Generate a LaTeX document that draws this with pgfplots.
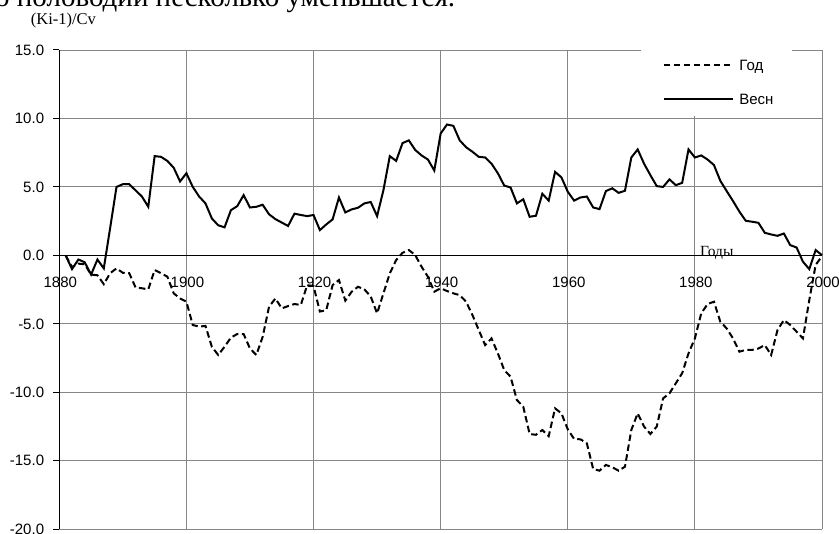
\documentclass[border=0pt]{standalone}
\usepackage{fontspec}
\setmainfont{Liberation Sans}
\newfontfamily\serifru{Liberation Serif}
\usepackage{pgfplots}
\usepackage{pgfplotstable}
\pgfplotsset{compat=1.18}
\pgfplotstableread{
year val
1881 0
1882 -0.85
1883 -0.6
1884 -0.65
1885 -1.4
1886 -1.45
1887 -2.1
1888 -1.3
1889 -0.95
1890 -1.27
1891 -1.3
1892 -2.34
1893 -2.4
1894 -2.48
1895 -1.07
1896 -1.3
1897 -1.55
1898 -2.77
1899 -3.14
1900 -3.38
1901 -5.08
1902 -5.2
1903 -5.15
1904 -6.67
1905 -7.27
1906 -6.67
1907 -6.0
1908 -5.74
1909 -5.74
1910 -6.8
1911 -7.27
1912 -5.94
1913 -3.75
1914 -3.14
1915 -3.87
1916 -3.7
1917 -3.55
1918 -3.62
1919 -2.17
1920 -2.24
1921 -4.1
1922 -4.0
1923 -2.17
1924 -1.8
1925 -3.3
1926 -2.65
1927 -2.29
1928 -2.48
1929 -3.0
1930 -4.23
1931 -2.77
1932 -1.31
1933 -0.34
1934 0.19
1935 0.39
1936 0.02
1937 -0.83
1938 -1.56
1939 -2.65
1940 -2.4
1941 -2.6
1942 -2.77
1943 -2.9
1944 -3.38
1945 -4.35
1946 -5.45
1947 -6.55
1948 -6.06
1949 -7.15
1950 -8.37
1951 -8.86
1952 -10.56
1953 -11.05
1954 -13.04
1955 -13.1
1956 -12.75
1957 -13.2
1958 -11.17
1959 -11.53
1960 -12.7
1961 -13.4
1962 -13.43
1963 -13.72
1964 -15.6
1965 -15.72
1966 -15.3
1967 -15.47
1968 -15.72
1969 -15.43
1970 -12.75
1971 -11.53
1972 -12.5
1973 -13.04
1974 -12.5
1975 -10.44
1976 -10.07
1977 -9.34
1978 -8.6
1979 -7.15
1980 -6.06
1981 -4.23
1982 -3.55
1983 -3.38
1984 -4.84
1985 -5.33
1986 -6.06
1987 -7.03
1988 -6.9
1989 -6.9
1990 -6.8
1991 -6.55
1992 -7.27
1993 -5.45
1994 -4.72
1995 -5.08
1996 -5.57
1997 -6.06
1998 -3.26
1999 -0.7
2000 -0.05
}\godtable
\pgfplotstableread{
year val
1881 0.0
1882 -1.0
1883 -0.3
1884 -0.5
1885 -1.4
1886 -0.3
1887 -0.95
1888 2.0
1889 5.0
1890 5.2
1891 5.2
1892 4.75
1893 4.3
1894 3.55
1895 7.25
1896 7.2
1897 6.9
1898 6.4
1899 5.4
1900 6.0
1901 5.0
1902 4.3
1903 3.8
1904 2.7
1905 2.2
1906 2.05
1907 3.3
1908 3.6
1909 4.4
1910 3.5
1911 3.55
1912 3.7
1913 3.0
1914 2.65
1915 2.4
1916 2.15
1917 3.05
1918 2.95
1919 2.87
1920 2.95
1921 1.85
1922 2.26
1923 2.63
1924 4.23
1925 3.14
1926 3.36
1927 3.48
1928 3.8
1929 3.9
1930 2.87
1931 4.77
1932 7.25
1933 6.9
1934 8.2
1935 8.4
1936 7.7
1937 7.3
1938 7.0
1939 6.2
1940 8.9
1941 9.56
1942 9.46
1943 8.4
1944 7.9
1945 7.57
1946 7.2
1947 7.15
1948 6.7
1949 6.0
1950 5.1
1951 4.96
1952 3.8
1953 4.1
1954 2.82
1955 2.9
1956 4.5
1957 4.0
1958 6.1
1959 5.7
1960 4.65
1961 4.0
1962 4.23
1963 4.3
1964 3.5
1965 3.38
1966 4.7
1967 4.9
1968 4.57
1969 4.72
1970 7.15
1971 7.74
1972 6.7
1973 5.86
1974 5.06
1975 5.0
1976 5.55
1977 5.13
1978 5.3
1979 7.74
1980 7.15
1981 7.3
1982 7.0
1983 6.6
1984 5.45
1985 4.7
1986 3.97
1987 3.2
1988 2.53
1989 2.46
1990 2.38
1991 1.65
1992 1.53
1993 1.43
1994 1.6
1995 0.75
1996 0.58
1997 -0.46
1998 -1.0
1999 0.39
2000 0.02
}\vesntable
\begin{document}
\begin{tikzpicture}[x=1pt,y=1pt]
\useasboundingbox (0,0) rectangle (839,534);
\node[anchor=base west, inner sep=0pt, font=\serifru\fontsize{29}{33}\selectfont] at (-5,527.5) {о половодий несколько уменьшается.};
\node[anchor=base west, inner sep=0pt, font=\serifru\fontsize{16.5}{19}\selectfont] at (30.7,509) {(Ki-1)/Cv};
\begin{axis}[
  at={(59.3pt,4.7pt)}, anchor=south west, scale only axis,
  width=762.7pt, height=479.3pt,
  xmin=1880, xmax=2000, ymin=-20, ymax=15,
  xtick={1880,1900,...,2000}, ytick={-20,-15,...,15},
  axis y line*=left, axis x line*=middle,
  hide obscured x ticks=false, hide obscured y ticks=false,
  axis line style={black, line width=1pt},
  grid=major, major grid style={draw=gray!95, line width=0.9pt},
  tick align=outside, major tick length=6pt,
  xtick style={draw=none},
  ytick style={draw=black, line width=1pt},
  tick label style={font=\fontsize{15}{18}\selectfont},
  /pgf/number format/assume math mode=true,
  xticklabel style={/pgf/number format/1000 sep={}, /pgf/number format/fixed, /pgf/number format/precision=0, anchor=center, yshift=-21pt, xshift=1pt},
  yticklabel style={/pgf/number format/fixed, /pgf/number format/fixed zerofill, /pgf/number format/precision=1, inner sep=0pt, xshift=-9pt},
  clip=false,
  legend image code/.code={\draw[#1] (0pt,0pt) -- (69pt,0pt);},
  legend style={draw=none, fill=none, inner sep=0pt, at={(0.7911,0.9330)}, anchor=west,
    column sep=5.5pt, row sep=22.6pt,
    nodes={inner sep=0pt, anchor=west, text height=10.7pt, text depth=0pt, font=\fontsize{15}{18}\selectfont}},
  legend cell align=left,
]
\fill[white] (rel axis cs:0.7627,0.862) rectangle (rel axis cs:0.9607,1.03);
\addplot[black, line width=2pt, dash pattern=on 6.5pt off 3.5pt] table[x=year,y=val] {\godtable};
\addlegendentry{Год}
\addplot[black, line width=2pt] table[x=year,y=val] {\vesntable};
\addlegendentry{Весн}
\end{axis}
\node[anchor=base west, inner sep=0pt, font=\serifru\fontsize{15.5}{18}\selectfont] at (700,277.5) {Годы};
\end{tikzpicture}
\end{document}
